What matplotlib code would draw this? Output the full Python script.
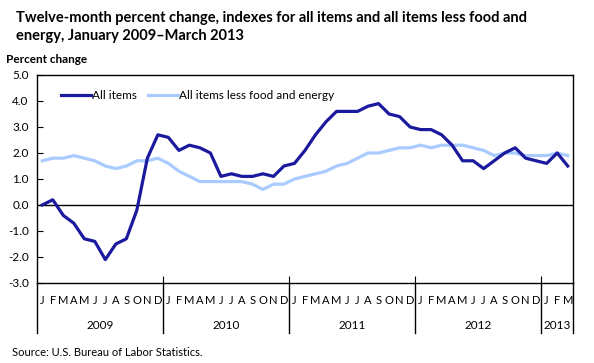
import numpy as np
import matplotlib
matplotlib.use("Agg")
import matplotlib.pyplot as plt
import matplotlib.transforms as mtransforms

plt.rcParams['font.family'] = ['Lato', 'DejaVu Sans']

# Data: twelve-month percent change, Jan 2009 - Mar 2013
ALL_ITEMS = [0.0, 0.2, -0.4, -0.7, -1.3, -1.4, -2.1, -1.5, -1.3, -0.2, 1.8, 2.7,
             2.6, 2.1, 2.3, 2.2, 2.0, 1.1, 1.2, 1.1, 1.1, 1.2, 1.1, 1.5,
             1.6, 2.1, 2.7, 3.2, 3.6, 3.6, 3.6, 3.8, 3.9, 3.5, 3.4, 3.0,
             2.9, 2.9, 2.7, 2.3, 1.7, 1.7, 1.4, 1.7, 2.0, 2.2, 1.8, 1.7,
             1.6, 2.0, 1.5]
CORE = [1.7, 1.8, 1.8, 1.9, 1.8, 1.7, 1.5, 1.4, 1.5, 1.7, 1.7, 1.8,
        1.6, 1.3, 1.1, 0.9, 0.9, 0.9, 0.9, 0.9, 0.8, 0.6, 0.8, 0.8,
        1.0, 1.1, 1.2, 1.3, 1.5, 1.6, 1.8, 2.0, 2.0, 2.1, 2.2, 2.2,
        2.3, 2.2, 2.3, 2.3, 2.3, 2.2, 2.1, 1.9, 2.0, 2.0, 1.9, 1.9,
        1.9, 2.0, 1.9]
MONTH_LETTERS = ["J", "F", "M", "A", "M", "J", "J", "A", "S", "O", "N", "D"]
YEARS = ["2009", "2010", "2011", "2012", "2013"]
YEAR_MONTHS = [12, 12, 12, 12, 3]
Y_TICKS = [5.0, 4.0, 3.0, 2.0, 1.0, 0.0, -1.0, -2.0, -3.0]

DARK = "#1B1A9E"
LIGHT = "#A9CBFF"


def main():
    fig = plt.figure(figsize=(5.94, 3.63), dpi=100)
    ax = fig.add_axes([0.0623, 0.2204, 0.9023, 0.573])

    x = np.arange(len(ALL_ITEMS))
    ax.plot(x, ALL_ITEMS, color=DARK, lw=2.3, label="All items", zorder=3)
    ax.plot(x, CORE, color=LIGHT, lw=2.3, label="All items less food and energy", zorder=2)
    ax.axhline(0, color="black", lw=1.0, zorder=1)

    ax.set_xlim(-0.5, len(ALL_ITEMS) - 0.5)
    ax.set_ylim(-3, 5)
    ax.set_yticks(Y_TICKS)
    ax.set_yticklabels([f"{v:.1f}" for v in Y_TICKS], fontsize=8.5)
    ax.tick_params(axis="y", direction="in", length=4, width=0.8, pad=6)

    # year boundaries as x ticks (no labels)
    bounds = np.cumsum([0] + YEAR_MONTHS) - 0.5
    ax.set_xticks(bounds[1:-1])
    ax.set_xticklabels([])
    ax.tick_params(axis="x", direction="in", length=5, width=0.8)

    for s in ax.spines.values():
        s.set_linewidth(1.0)

    # month letters, year labels and separators below the axis
    trans = mtransforms.blended_transform_factory(ax.transData, ax.transAxes)
    for i in x:
        ax.text(i, -0.085, MONTH_LETTERS[i % 12], transform=trans,
                ha="center", va="center", fontsize=8)
    for k, yr in enumerate(YEARS):
        mid = (bounds[k] + bounds[k + 1]) / 2
        ax.text(mid, -0.205, yr, transform=trans, ha="center", va="center", fontsize=8.5)
    for b in bounds:
        ax.plot([b, b], [0, -0.24], transform=trans, color="black", lw=1.0, clip_on=False)

    ax.legend(loc="upper left", ncol=2, frameon=False, fontsize=8.5,
              bbox_to_anchor=(0.025, 0.98), handlelength=2.5, handletextpad=0.1,
              columnspacing=1.0)

    fig.text(0.027, 0.97, "Twelve-month percent change, indexes for all items and all items less food and\n"
             "energy, January 2009\u2013March 2013", ha="left", va="top",
             fontsize=10.5, fontweight="bold", linespacing=1.35)
    fig.text(0.01, 0.835, "Percent change", ha="left", va="center", fontsize=8.5, fontweight="bold")
    fig.text(0.02, 0.03, "Source: U.S. Bureau of Labor Statistics.", ha="left", va="center", fontsize=8)

    fig.savefig("out.png", dpi=100)


if __name__ == "__main__":
    main()
